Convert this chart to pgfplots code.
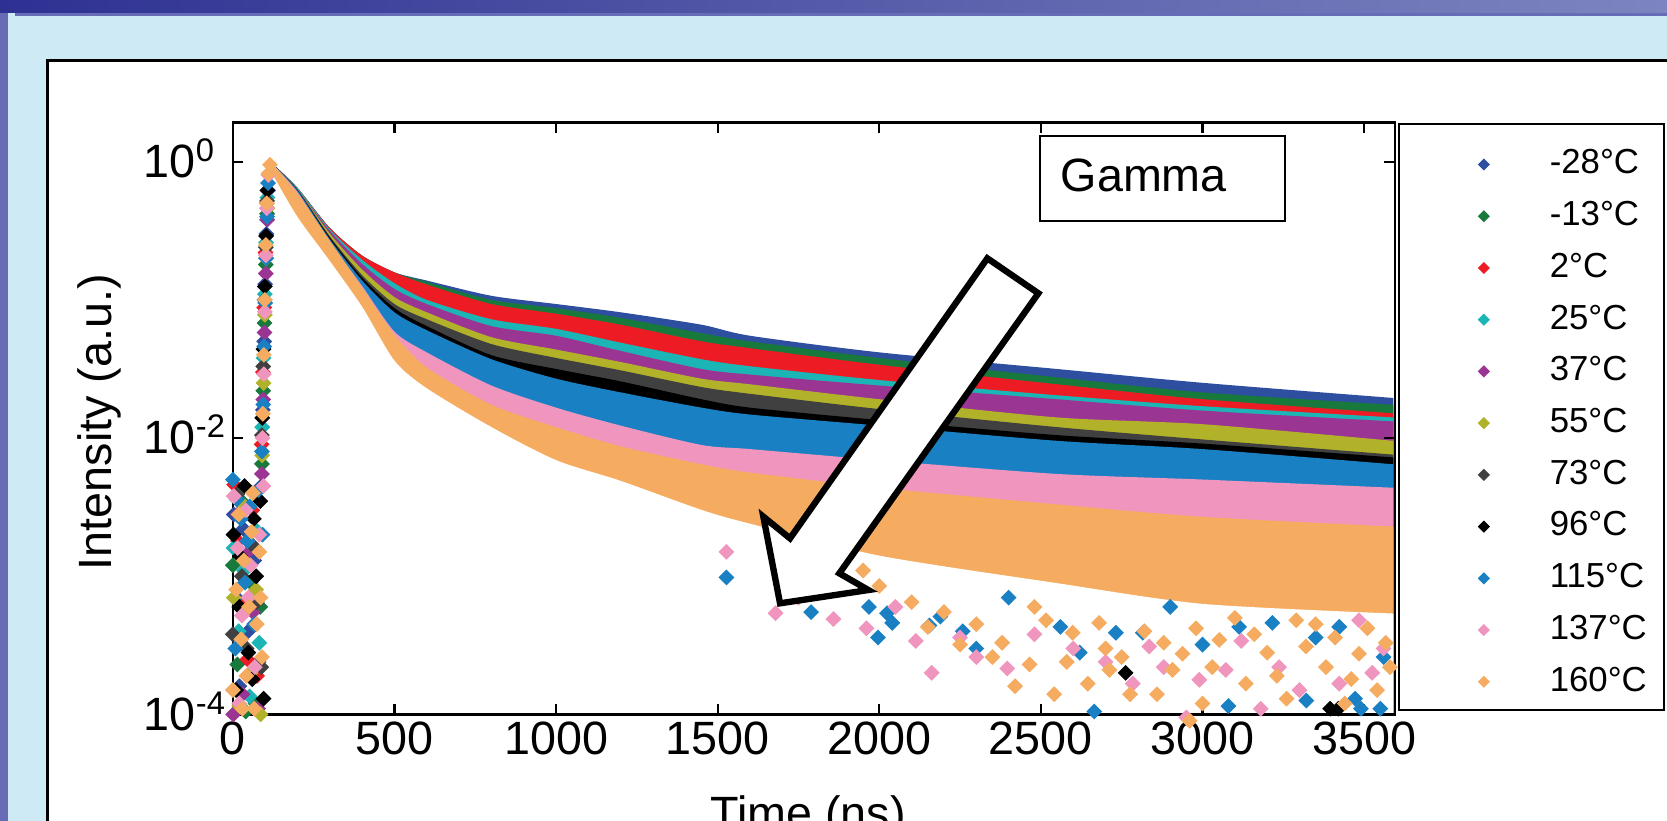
\documentclass[border=0pt]{standalone}
\usepackage{fontspec}
\setmainfont{Liberation Sans}
\usepackage{pgfplots}
\pgfplotsset{compat=1.18}
\usepackage{pgfplotstable}

\definecolor{cb}{RGB}{46,78,160}
\definecolor{cg}{RGB}{23,122,60}
\definecolor{cr}{RGB}{237,28,36}
\definecolor{cc}{RGB}{28,181,181}
\definecolor{cp}{RGB}{155,53,147}
\definecolor{co}{RGB}{178,178,42}
\definecolor{cd}{RGB}{64,64,64}
\definecolor{ck}{RGB}{0,0,0}
\definecolor{cB}{RGB}{26,128,196}
\definecolor{cP}{RGB}{240,149,189}
\definecolor{cO}{RGB}{245,172,96}
\definecolor{slidebg}{RGB}{205,234,245}
\definecolor{bardark}{RGB}{46,49,146}
\definecolor{barlight}{RGB}{125,133,192}
\definecolor{barstrip}{RGB}{104,108,182}

% band edges: upper edge of each temperature series, and lower edge of the 160C band
\pgfplotstableread{
x    b      g      r      c      p      o       d       k       B       P       O       Ob
120  0.977  0.977  0.977  0.977  0.977  0.977   0.977   0.977   0.977   0.977   0.977   0.832
200  0.646  0.646  0.646  0.646  0.631  0.631   0.631   0.617   0.617   0.603   0.589   0.398
300  0.331  0.331  0.331  0.324  0.316  0.302   0.288   0.282   0.275   0.263   0.269   0.191
400  0.209  0.209  0.209  0.195  0.182  0.166   0.151   0.1445  0.138   0.126   0.123   0.0891
500  0.158  0.158  0.158  0.132  0.120  0.1047  0.0933  0.0871  0.0813  0.0589  0.0562  0.0363
600  0.138  0.135  0.129  0.100  0.0933 0.0813  0.0724  0.0646  0.0603  0.0417  0.0324  0.0229
800  0.107  0.100  0.0933 0.0724 0.0646 0.0537  0.0479  0.0398  0.0372  0.0240  0.0174  0.0120
1000 0.0933 0.0871 0.0794 0.0617 0.0550 0.0437  0.0380  0.0316  0.0269  0.0166  0.0120  0.00692
1200 0.0813 0.0741 0.0661 0.0490 0.0427 0.0355  0.0309  0.0257  0.0214  0.0123  0.00871 0.00490
1450 0.0661 0.0575 0.0501 0.0372 0.0316 0.0269  0.0234  0.0191  0.0166  0.00891 0.00646 0.00302
1600 0.0550 0.0501 0.0447 0.0331 0.0288 0.0245  0.0209  0.0166  0.0148  0.00832 0.00562 0.00240
2000 0.0417 0.0380 0.0339 0.0263 0.0240 0.0191  0.0162  0.0135  0.0123  0.00692 0.00437 0.00141
2550 0.0316 0.0275 0.0245 0.0204 0.0191 0.0141  0.0120  0.0105  0.00955 0.00550 0.00331 0.000891
3000 0.0251 0.0214 0.0191 0.0170 0.0158 0.0126  0.00977 0.00912 0.00832 0.00501 0.00269 0.000631
3590 0.0195 0.0174 0.0151 0.0141 0.0132 0.00955 0.00759 0.00724 0.00646 0.00437 0.00229 0.000537
}\bands

\pgfplotsset{dia/.style={only marks, mark=square*, mark size=1.3pt, mark options={rotate=45, solid}, color=#1},
  band/.style={fill=#1, draw=none, forget plot, smooth, tension=0.45}}

\begin{document}
\begin{tikzpicture}
\useasboundingbox (0,0) rectangle (15.68,7.72);
\fill[slidebg] (0,0) rectangle (15.68,7.72);
\shade[left color=bardark, right color=barlight] (0,7.60) rectangle (15.68,7.72);
\fill[barstrip] (0.14,7.565) rectangle (15.68,7.60);
\fill[barstrip] (0,0) rectangle (0.075,7.60);
\draw[black, line width=0.9pt, fill=white] (0.45,0) -- (0.45,7.15) -- (15.68,7.15);
\fill[white] (0.465,0) rectangle (15.68,7.135);
\draw[black, line width=0.6pt, fill=white] (13.16,6.55) rectangle (15.65,1.04);

\begin{axis}[
  at={(2.19cm,1.00cm)}, anchor=south west,
  width=10.93cm, height=5.57cm, scale only axis,
  xmin=0, xmax=3595, ymode=log, ymin=1e-4, ymax=1.93,
  log origin y=infty,
  clip=false, axis on top,
  axis line style={line width=0.7pt},
  tick style={black, line width=0.6pt},
  tick align=inside, major tick length=0.1cm,
  xtick={0,500,1000,1500,2000,2500,3000,3500},
  xticklabels={0,500,1000,1500,2000,2500,3000,3500},
  ytick={1e-4,1e-2,1},
  yticklabels={10\rlap{\textsuperscript{-4}},10\rlap{\textsuperscript{-2}},10\rlap{\textsuperscript{0}}},
  yminorticks=false, xminorticks=false,
  ticklabel style={font=\fontsize{12.5}{15}\selectfont},
  xticklabel style={anchor=north, inner sep=0pt, yshift=-0.06cm},
  yticklabel style={anchor=base east, inner sep=0pt, xshift=-0.34cm, yshift=-0.15cm},
  xlabel={Time (ns)}, ylabel={Intensity (a.u.)},
  label style={font=\fontsize{12.5}{15}\selectfont},
  xlabel style={at={(axis description cs:0.495,0)}, anchor=base, yshift=-1.08cm},
  ylabel style={at={(axis description cs:-0.1043,0.4937)}, anchor=base},
  legend style={draw=none, fill=none, at={(axis description cs:1,1)}, anchor=north west,
    xshift=0.04cm, yshift=-0.02cm, inner xsep=0.49cm, inner ysep=0.16cm, row sep=0.065cm,
    font=\fontsize{9.3}{11}\selectfont,
    /tikz/every odd column/.append style={column sep=0.25cm}},
  legend cell align=left,
  legend image code/.code={\path[draw=none,fill=none] (0cm,-0.1cm) rectangle (0.6cm,0.1cm);
    \draw[#1,mark size=0.95pt] plot coordinates {(0.3cm,0cm)};},
]
% ---- dense noise bands of each series (later series drawn over earlier ones) ----
\addplot[band=cb] table[x=x,y=b]{\bands} \closedcycle;
\addplot[band=cg] table[x=x,y=g]{\bands} \closedcycle;
\addplot[band=cr] table[x=x,y=r]{\bands} \closedcycle;
\addplot[band=cc] table[x=x,y=c]{\bands} \closedcycle;
\addplot[band=cp] table[x=x,y=p]{\bands} \closedcycle;
\addplot[band=co] table[x=x,y=o]{\bands} \closedcycle;
\addplot[band=cd] table[x=x,y=d]{\bands} \closedcycle;
\addplot[band=ck] table[x=x,y=k]{\bands} \closedcycle;
\addplot[band=cB] table[x=x,y=B]{\bands} \closedcycle;
\addplot[band=cP] table[x=x,y=P]{\bands} \closedcycle;
\addplot[band=cO] table[x=x,y=O]{\bands} \closedcycle;
\addplot[band=white] table[x=x,y=Ob]{\bands} \closedcycle;
\addplot[fill=white, draw=none, forget plot] coordinates {(111,0.8) (121.5,0.8) (121.5,1e-4) (111,1e-4)} -- cycle;

% ---- individual points (pre-pulse, rise, sparse tails) ----
\addplot[dia=cb] coordinates {(3,2.8e-3) (12,7e-4) (20,1.6e-4) (33,2.2e-3) (48,4.0e-4) (66,1.3e-3) (80,2.4e-4) (88,4.5e-3) (93,1.6e-2) (97,5.0e-2) (100,0.13) (104,0.30) (109,0.62)};
\addlegendentry{-28°C}
\addplot[dia=cg] coordinates {(0,1.2e-3) (14,2.3e-4) (27,3.5e-3) (40,1.05e-4) (55,9e-4) (70,1.2e-4) (85,6e-4) (90,6.5e-3) (94,2.2e-2) (98,6.8e-2) (102,0.18) (106,0.42)};
\addlegendentry{-13°C}
\addplot[dia=cr] coordinates {(4,4.6e-3) (16,1.8e-3) (30,6e-4) (45,2.5e-4) (60,3.0e-3) (75,1.9e-4) (89,9e-3) (93,3.0e-2) (97,8.8e-2) (101,0.22) (105,0.50)};
\addlegendentry{2°C}
\addplot[dia=cc] coordinates {(2,1.6e-3) (18,4.0e-4) (35,1.1e-3) (52,1.35e-4) (68,2.2e-3) (82,3.3e-4) (91,1.2e-2) (95,3.8e-2) (99,0.11) (103,0.26) (107,0.55)};
\addlegendentry{25°C}
\addplot[dia=cp] coordinates {(1,1.0e-4) (15,2.8e-3) (30,1.4e-4) (46,1.5e-3) (62,5.5e-4) (78,1.1e-4) (90,5.5e-3) (94,1.9e-2) (98,5.8e-2) (102,0.155) (106,0.38)};
\addlegendentry{37°C}
\addplot[dia=co] coordinates {(3,7e-4) (20,1.15e-4) (37,3.2e-3) (55,2.0e-4) (72,8e-4) (86,1.0e-4) (91,7.5e-3) (95,2.5e-2) (99,7.8e-2) (103,0.2) (107,0.46)};
\addlegendentry{55°C}
\addplot[dia=cd] coordinates {(0,3.8e-4) (13,3.9e-3) (28,1.0e-3) (43,3.0e-4) (58,1.7e-3) (74,6.5e-4) (88,2.2e-4) (90,1.05e-2) (94,3.3e-2) (98,0.1) (102,0.24) (106,0.52)};
\addlegendentry{73°C}
\addplot[dia=ck] coordinates {(2,2.0e-3) (10,1.5e-4) (20,6e-4) (22,1.4e-3) (36,4.5e-3) (48,2.8e-4) (60,1.8e-4) (65,2.6e-3) (72,1.0e-3) (85,3.5e-3) (95,1.3e-4) (91,1.4e-2) (95,4.4e-2) (99,0.125) (103,0.29) (107,0.62) (2762,2.0e-4) (3395,1.1e-4) (3420,1.1e-4)};
\addlegendentry{96°C}
\addplot[dia=cB] coordinates {(0,5.0e-3) (8,3.0e-4) (12,3.6e-3) (25,2.6e-3) (38,9e-4) (45,1.8e-3) (52,3.2e-3) (66,4.5e-4) (80,4.2e-3) (92,2.0e-3) (90,8e-3) (94,1.75e-2) (97,4.6e-2) (100,0.095) (103,0.2) (106,0.4) (109,0.7)
 (1527,9.8e-4) (1789,5.5e-4) (1968,6.0e-4) (1996,3.6e-4) (2024,5.4e-4) (2040,4.6e-4) (2155,4.4e-4) (2189,5.1e-4) (2258,4.0e-4) (2300,3.0e-4) (2400,7e-4) (2560,4.3e-4) (2620,2.8e-4) (2665,1.05e-4) (2732,3.9e-4) (2815,3.9e-4) (2900,6e-4) (3000,3.2e-4) (3080,1.15e-4) (3113,4.3e-4) (3216,4.6e-4) (3321,1.26e-4) (3350,3.6e-4) (3423,4.3e-4) (3472,1.3e-4) (3490,1.1e-4) (3550,1.1e-4) (3560,2.6e-4)};
\addlegendentry{115°C}
\addplot[dia=cP] coordinates {(3,3.8e-3) (15,1.6e-3) (20,1.2e-4) (28,5.2e-4) (40,3.0e-3) (48,7e-4) (55,1.2e-3) (68,2.2e-4) (82,2.0e-3) (95,4.5e-3) (92,1.0e-2) (96,2.9e-2) (99,8.2e-2) (102,0.21) (105,0.46) (110,0.8)
 (1527,1.5e-3) (1679,5.4e-4) (1750,7e-4) (1858,4.9e-4) (1960,4.2e-4) (2050,6e-4) (2113,3.4e-4) (2162,2.0e-4) (2250,3.6e-4) (2300,2.6e-4) (2396,2.15e-4) (2480,3.8e-4) (2600,3.0e-4) (2700,2.4e-4) (2784,1.67e-4) (2835,3.1e-4) (2880,2.2e-4) (2950,9.5e-5) (2990,1.78e-4) (3072,2.1e-4) (3120,3.4e-4) (3180,1.1e-4) (3237,2.2e-4) (3300,1.5e-4) (3423,1.67e-4) (3484,4.8e-4) (3525,2.0e-4) (3560,3.0e-4)};
\addlegendentry{137°C}
\addplot[dia=cO] coordinates {(0,1.5e-4) (10,8e-4) (18,2.8e-3) (26,3.5e-4) (30,1.1e-4) (34,1.3e-3) (42,1.9e-4) (50,6e-4) (58,2.1e-3) (62,4e-3) (66,1.1e-4) (74,4.5e-4) (82,1.5e-3) (86,7e-4) (90,2.6e-4) (93,1.5e-2) (96,4e-2) (99,0.1) (102,0.25) (105,0.5) (110,0.82) (115,0.95)
 (1850,9e-4) (1950,1.1e-3) (2000,8.5e-4) (2100,6.5e-4) (2150,4.3e-4) (2200,5.5e-4) (2250,3.2e-4) (2300,4.5e-4) (2350,2.6e-4) (2380,3.3e-4) (2420,1.6e-4) (2465,2.3e-4) (2480,6.0e-4) (2516,4.8e-4) (2541,1.4e-4) (2580,2.4e-4) (2598,3.9e-4) (2645,1.67e-4) (2680,4.6e-4) (2700,3.0e-4) (2712,2.1e-4) (2750,2.6e-4) (2776,1.4e-4) (2820,4.0e-4) (2859,1.4e-4) (2880,3.3e-4) (2907,2.1e-4) (2938,2.75e-4) (2960,9e-5) (2980,4.2e-4) (3000,1.2e-4) (3030,2.2e-4) (3052,3.46e-4) (3100,5.0e-4) (3134,1.67e-4) (3160,3.8e-4) (3200,2.8e-4) (3230,1.9e-4) (3260,1.3e-4) (3290,4.8e-4) (3320,3.1e-4) (3350,4.5e-4) (3382,2.2e-4) (3410,3.6e-4) (3440,1.2e-4) (3460,1.8e-4) (3484,2.75e-4) (3510,4.2e-4) (3540,1.5e-4) (3567,3.3e-4) (3580,2.2e-4)};
\addlegendentry{160°C}
\end{axis}

% "Gamma" label box
\draw[black, line width=0.6pt, fill=white] (9.783,6.441) rectangle (12.087,5.644);
\node[anchor=base west, inner sep=0pt, font=\fontsize{12.5}{15}\selectfont] at (9.97,5.917) {Gamma};
% arrow (increasing temperature)
\draw[black, line width=1.7pt, fill=white, line join=miter]
  (9.287,5.29) -- (9.767,4.961) -- (7.895,2.327) -- (8.168,2.17) -- (7.337,2.045) -- (7.18,2.86) -- (7.431,2.656) -- cycle;
\end{tikzpicture}
\end{document}
